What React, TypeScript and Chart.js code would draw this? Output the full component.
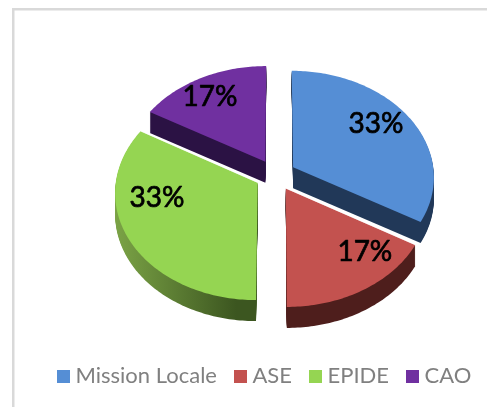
import React, { useEffect, useRef } from "react";
import { Chart, registerables } from "chart.js";

Chart.register(...registerables);

const categories = ["Mission Locale", "ASE", "EPIDE", "CAO"];
const values = [2, 1, 2, 1];
const topColors = ["#558ed5", "#c3524f", "#95d552", "#7030a0"];
const wallColors = ["#213858", "#4e1e1c", "#3c5620", "#2b1244"];
const wallLightColors = ["#213858", "#4e1e1c", "#7ba346", "#2b1244"];
const labelAngleFractions = [0.46, 0.28, 0.656, 0.455];
const labelRadii = [0.751, 0.766, 0.713, 0.783];
const drawOrder = [3, 0, 2, 1];

// Tilted-disc projection used to draw the arc elements in false 3D.
const CX = 275.5;
const CY = 175;
const RX = 141;
const RY = 106;
const PERSPECTIVE = 0.085;
const EXPLODE = 0.145;
const DEPTH = 21;

const project = (u: number, v: number) => {
  const w = 1 - PERSPECTIVE * v;
  return { x: CX + (RX * u) / w, y: CY + (RY * v) / w };
};

const sliceOutline = (start: number, end: number) => {
  const mid = (start + end) / 2;
  const ou = Math.cos(mid) * EXPLODE;
  const ov = Math.sin(mid) * EXPLODE;
  const pts = [project(ou, ov)];
  const steps = Math.ceil(((end - start) * 180) / Math.PI);
  for (let i = 0; i <= steps; i++) {
    const a = start + ((end - start) * i) / steps;
    pts.push(project(ou + Math.cos(a), ov + Math.sin(a)));
  }
  return pts;
};

const fillOutline = (ctx: CanvasRenderingContext2D, pts: { x: number; y: number }[], dy: number) => {
  ctx.beginPath();
  pts.forEach((p, i) => (i ? ctx.lineTo(p.x, p.y + dy) : ctx.moveTo(p.x, p.y + dy)));
  ctx.closePath();
  ctx.fill();
};

const pie3d = {
  id: "pie3d",
  beforeDraw(chart: any) {
    const { ctx, width, height } = chart;
    ctx.save();
    ctx.fillStyle = "#ffffff";
    ctx.fillRect(0, 0, width, height);
    ctx.fillStyle = "#d9d9d9";
    ctx.fillRect(12, 8, width - 12, 2.5);
    ctx.fillRect(12, 8, 2.5, height - 8);
    ctx.restore();
  },
  beforeDatasetDraw(chart: any) {
    const { ctx } = chart;
    const arcs = chart.getDatasetMeta(0).data;
    const total = values.reduce((a, b) => a + b, 0);
    ctx.save();
    drawOrder.forEach((i) => {
      const pts = sliceOutline(arcs[i].startAngle, arcs[i].endAngle);
      const xs = pts.map((p) => p.x);
      const grad = ctx.createLinearGradient(Math.min(...xs), 0, Math.max(...xs), 0);
      grad.addColorStop(0, wallLightColors[i]);
      grad.addColorStop(0.85, wallColors[i]);
      grad.addColorStop(1, wallColors[i]);
      ctx.fillStyle = grad;
      for (let dy = DEPTH; dy >= 1; dy--) fillOutline(ctx, pts, dy);
      ctx.fillStyle = topColors[i];
      fillOutline(ctx, pts, 0);
    });
    // light rim along the two cut edges that face the wall behind them
    ctx.strokeStyle = "#ffffff";
    ctx.lineWidth = 0.6;
    [
      [1, 1],
      [2, -1],
    ].forEach(([i, side]) => {
      const pts = sliceOutline(arcs[i].startAngle, arcs[i].endAngle);
      const edge = side === 1 ? pts[1] : pts[pts.length - 1];
      ctx.beginPath();
      ctx.moveTo(pts[0].x, pts[0].y - 0.3);
      ctx.lineTo(edge.x, edge.y - 0.3);
      ctx.stroke();
    });
    ctx.fillStyle = "#000000";
    ctx.strokeStyle = "#000000";
    ctx.lineWidth = 0.7;
    ctx.lineJoin = "round";
    ctx.font = "28px Lato";
    ctx.textAlign = "center";
    ctx.textBaseline = "middle";
    arcs.forEach((arc: any, i: number) => {
      const mid = (arc.startAngle + arc.endAngle) / 2;
      const a = arc.startAngle + (arc.endAngle - arc.startAngle) * labelAngleFractions[i];
      const p = project(
        Math.cos(mid) * EXPLODE + Math.cos(a) * labelRadii[i],
        Math.sin(mid) * EXPLODE + Math.sin(a) * labelRadii[i]
      );
      const text = `${Math.round((values[i] / total) * 100)}%`;
      ctx.fillText(text, p.x, p.y);
      ctx.strokeText(text, p.x, p.y);
    });
    ctx.restore();
    return false;
  },
};

const swatch = (color: string) => {
  const c = document.createElement("canvas");
  c.width = 13;
  c.height = 13;
  const g = c.getContext("2d")!;
  g.fillStyle = color;
  g.fillRect(0, 0, 13, 13);
  return c;
};

export default function App() {
  const ref = useRef<HTMLCanvasElement>(null);
  useEffect(() => {
    const chart = new Chart(ref.current!, {
      type: "pie",
      data: {
        labels: categories,
        datasets: [{ data: values, backgroundColor: topColors, borderWidth: 0 }],
      },
      plugins: [pie3d],
      options: {
        animation: false,
        responsive: false,
        layout: { padding: { left: 40, right: -60, bottom: 10 } },
        plugins: {
          tooltip: { enabled: false },
          legend: {
            position: "bottom",
            align: "start",
            labels: {
              usePointStyle: true,
              boxWidth: 2,
              padding: 22.5,
              color: "#808080",
              font: { family: "Lato", size: 22 },
              generateLabels: () =>
                categories.map((text, i) => ({
                  text,
                  fillStyle: topColors[i],
                  strokeStyle: topColors[i],
                  lineWidth: 0,
                  fontColor: "#808080",
                  pointStyle: swatch(topColors[i]),
                  index: i,
                })),
            },
          },
        },
      },
    } as any);
    return () => chart.destroy();
  }, []);
  return (
    <div style={{ position: "fixed", left: 0, top: 0, width: 487, height: 407 }}>
      <canvas ref={ref} width={487} height={407} style={{ display: "block" }} />
    </div>
  );
}
